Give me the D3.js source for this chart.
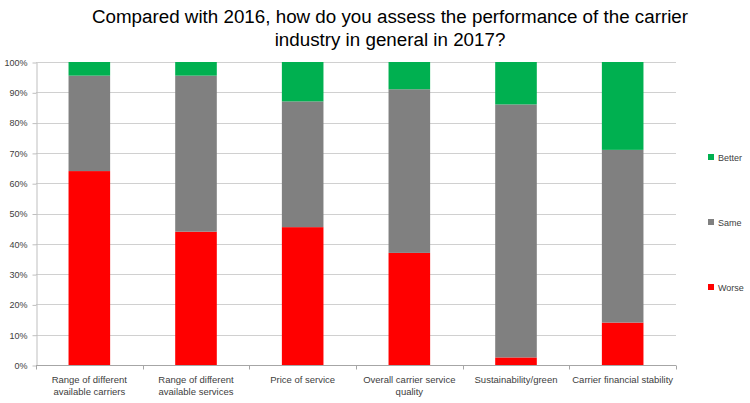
<!DOCTYPE html>
<html><head><meta charset="utf-8">
<script src="https://cdn.jsdelivr.net/npm/d3@7/dist/d3.min.js"></script>
<style>body{margin:0;background:#fff}svg{display:block}</style>
</head><body><svg id="c" width="750" height="403"></svg>
<script>
const categories = [
  ["Range of different","available carriers"],
  ["Range of different","available services"],
  ["Price of service"],
  ["Overall carrier service","quality"],
  ["Sustainability/green"],
  ["Carrier financial stability"]
];
const seriesNames = ["Worse","Same","Better"];
const seriesColors = ["#FF0000","#808080","#00B050"];
const worse  = [64, 44, 45.5, 37, 2.5, 14];
const same   = [31.5, 51.5, 41.5, 54, 83.5, 57];
const better = [4.5, 4.5, 13, 9, 14, 29];
const yTicks = [0,10,20,30,40,50,60,70,80,90,100];
const titleLines = ["Compared with 2016, how do you assess the performance of the carrier","industry in general in 2017?"];

const svg = d3.select("#c");
const m = {left:36, right:676, top:62, bottom:365};
const x = d3.scaleBand().domain(d3.range(categories.length)).range([m.left, m.right]).paddingInner(0.61).paddingOuter(0.305);
const y = d3.scaleLinear().domain([0,100]).range([m.bottom, m.top]);
const font = "'Liberation Sans', Arial, sans-serif";

// title
svg.append("g").selectAll("text").data(titleLines).join("text")
  .attr("x", 390).attr("y", (d,i)=>23+i*23).attr("text-anchor","middle")
  .attr("font-family", font).attr("font-size", 18.8).attr("fill","#000").text(d=>d);

// gridlines
svg.append("g").selectAll("line").data(yTicks.slice(1)).join("line")
  .attr("x1", m.left).attr("x2", m.right).attr("y1", d=>Math.round(y(d))+0.5).attr("y2", d=>Math.round(y(d))+0.5)
  .attr("stroke","#D0D0D0").attr("stroke-width",1);

// y axis
const yAxis = d3.axisLeft(y).tickValues(yTicks).tickFormat(d=>d+"%").tickSize(4).tickSizeOuter(0);
const gy = svg.append("g").attr("transform",`translate(${m.left+0.5},0.5)`).call(yAxis);
gy.selectAll("path,line").attr("stroke","#BFBFBF");
gy.selectAll("text").attr("font-family",font).attr("font-size",9).attr("fill","#404040").attr("x",-9);

// stacked bars
const rows = categories.map((c,i)=>({i, Worse:worse[i], Same:same[i], Better:better[i]}));
const stack = d3.stack().keys(seriesNames)(rows);
svg.append("g").selectAll("g").data(stack).join("g").attr("fill",(d,i)=>seriesColors[i])
  .selectAll("rect").data(d=>d).join("rect")
  .attr("x", d=>x(d.data.i)).attr("width", x.bandwidth())
  .attr("y", d=>y(d[1])).attr("height", d=>y(d[0])-y(d[1]));

// x axis
const xb = d3.scaleLinear().domain([0,categories.length]).range([m.left,m.right]);
const gx = svg.append("g").attr("transform",`translate(0,${m.bottom+0.5})`);
gx.append("line").attr("x1",m.left).attr("x2",m.right).attr("stroke","#A6A6A6");
gx.selectAll("line.t").data(d3.range(categories.length+1)).join("line").attr("class","t")
  .attr("x1",d=>Math.round(xb(d))+0.5).attr("x2",d=>Math.round(xb(d))+0.5).attr("y1",0).attr("y2",4).attr("stroke","#A6A6A6");
const lbl = gx.selectAll("text").data(categories).join("text")
  .attr("text-anchor","middle").attr("font-family",font).attr("font-size",9.5).attr("fill","#404040");
lbl.selectAll("tspan").data((d,i)=>d.map(t=>({t,i}))).join("tspan")
  .attr("x", d=>x(d.i)+x.bandwidth()/2).attr("y",(d,j)=>17+j*12).text(d=>d.t);

// legend
const leg = svg.append("g").selectAll("g").data(seriesNames.slice().reverse()).join("g")
  .attr("transform",(d,i)=>`translate(708,${154+i*65})`);
leg.append("rect").attr("width",6).attr("height",6).attr("fill",d=>seriesColors[seriesNames.indexOf(d)]);
leg.append("text").attr("x",10).attr("y",6.5).attr("font-family",font).attr("font-size",9).attr("fill","#404040").text(d=>d);
</script></body></html>
